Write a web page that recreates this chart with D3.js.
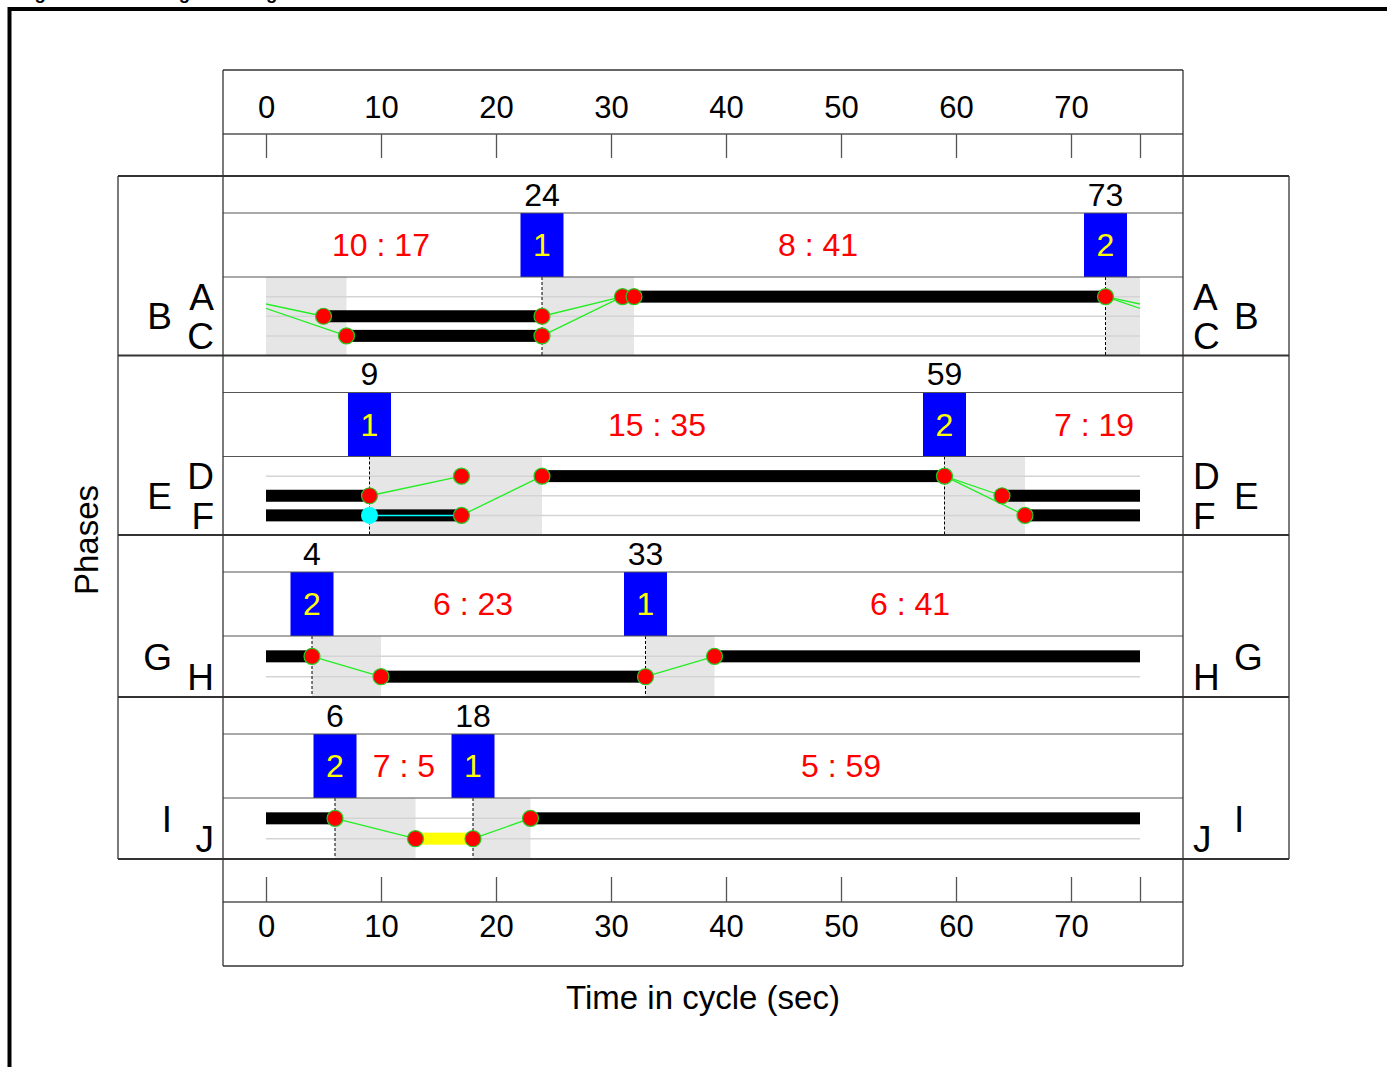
<!DOCTYPE html>
<html><head><meta charset="utf-8">
<script src="https://cdn.jsdelivr.net/npm/d3@7"></script>
<style>
body{margin:0;background:#fff}
svg{display:block}
text{font-family:"Liberation Sans",Arial,Helvetica,sans-serif}
</style>
</head><body><svg id="c" width="1387" height="1067"></svg>
<script>
// ---------------- data ----------------
const cycleLength = 76;
const tickValues = [0,10,20,30,40,50,60,70];
const ringLanes = [["A","B","C"],["D","E","F"],["G","H"],["I","J"]];
const forceOffTimes = [[24,73],[9,59],[4,33],[6,18]];
const forceOffPhases = [["1","2"],["1","2"],["2","1"],["2","1"]];
const splitLabels = [["10 : 17","8 : 41"],["15 : 35","7 : 19"],["6 : 23","6 : 41"],["7 : 5","5 : 59"]];
const splitLabelTimes = [[10,48],[34,72],[18,56],[12,50]];
const clearanceIntervals = [[[73,83],[24,32]],[[9,24],[59,66]],[[4,10],[33,39]],[[6,13],[18,23]]];
// [lane index, start, end]  (end may exceed cycle -> wraps)
const greenIntervals = [
  [[0,32,73],[1,5,24],[2,7,24]],
  [[0,24,59],[1,64,85],[2,66,93]],
  [[0,39,80],[1,10,33]],
  [[0,23,82]]
];
const yellowIntervals = [[],[],[],[[1,13,18]]];
const holdIntervals = [[],[[2,9,17]],[],[]];
// [fromLane, fromTime, toLane, toTime]
const transitions = [
  [[0,73,1,81],[0,73,2,83],[1,24,0,31],[2,24,0,31]],
  [[1,9,0,17],[2,17,0,24],[0,59,1,64],[0,59,2,66]],
  [[0,4,1,10],[1,33,0,39]],
  [[0,6,1,13],[1,18,0,23]]
];
const eventPoints = [
  [[0,31],[0,32],[0,73],[1,5],[1,24],[2,7],[2,24]],
  [[0,17],[0,24],[0,59],[1,9],[1,64],[2,17],[2,66]],
  [[0,4],[1,10],[1,33],[0,39]],
  [[0,6],[1,13],[1,18],[0,23]]
];
const holdPoints = [[],[[2,9]],[],[]];
const titleText = "Figure 3-12: AM Signal timing";
const xTitle = "Time in cycle (sec)";
const yTitle = "Phases";

// ---------------- layout ----------------
const svg = d3.select("#c");
const x = d3.scaleLinear().domain([0, cycleLength]).range([266, 1140]);
const L = 223, R = 1183, OL = 118, OR = 1289;
const numH = 37, blockH = 64;
const FONT_AX = 31, FONT_PH = 37, FONT_NUM = 32, FONT_BLK = 32, FONT_SPL = 32;
const boxColor = "#333";

function wrap(s, e) {
  const out = [];
  if (e <= cycleLength) out.push([s, e]);
  else { out.push([s, cycleLength]); out.push([0, e - cycleLength]); }
  return out;
}
function ctext(g, txt, cx, cy, fs, color, anchor) {
  return g.append("text").attr("x", cx).attr("y", cy + 0.358 * fs)
    .attr("font-size", fs).attr("fill", color || "#000")
    .attr("text-anchor", anchor || "middle").text(txt);
}
function hline(y, x1, x2, w, c) {
  svg.append("line").attr("x1", x1).attr("x2", x2).attr("y1", y).attr("y2", y)
    .attr("stroke", c || boxColor).attr("stroke-width", w || 1.3);
}
function vline(xx, y1, y2, w, c) {
  svg.append("line").attr("x1", xx).attr("x2", xx).attr("y1", y1).attr("y2", y2)
    .attr("stroke", c || boxColor).attr("stroke-width", w || 1.3);
}

// title (cut off at the top edge, as in the source figure)
svg.append("text").attr("x", 18).attr("y", -1).attr("font-size", 18.5)
  .attr("font-weight", "bold").text(titleText);
// outer frame
svg.append("path").attr("d", "M9.5,1067 V9 H1387").attr("fill", "none")
  .attr("stroke", "#000").attr("stroke-width", 4);

// row geometry
let cur = 176;
const rows = ringLanes.map(l => {
  const barH = 17.5 * l.length + 26;
  const g = { top: cur, blockTop: cur + numH, barTop: cur + numH + blockH, barH };
  g.bottom = g.barTop + barH;
  g.lane = d3.scaleLinear().domain([-1, l.length]).range([g.barTop, g.bottom]);
  cur = g.bottom;
  return g;
});
const rowsEnd = cur;

const defs = svg.append("defs");
defs.append("clipPath").attr("id", "clipx").append("rect")
  .attr("x", x(0)).attr("y", 0).attr("width", x(cycleLength) - x(0)).attr("height", 1067);

// ---------------- rings ----------------
rows.forEach((g, r) => {
  const lanes = ringLanes[r];
  const gr = svg.append("g");
  clearanceIntervals[r].forEach(([s, e]) => wrap(s, e).forEach(([a, b]) => {
    gr.append("rect").attr("x", x(a)).attr("width", x(b) - x(a))
      .attr("y", g.barTop).attr("height", g.barH).attr("fill", "#e6e6e6");
  }));
  lanes.forEach((ln, i) => {
    gr.append("line").attr("x1", x(0)).attr("x2", x(cycleLength))
      .attr("y1", g.lane(i)).attr("y2", g.lane(i))
      .attr("stroke", "#d4d4d4").attr("stroke-width", 1.5);
  });
  forceOffTimes[r].forEach(t => {
    gr.append("line").attr("x1", x(t)).attr("x2", x(t))
      .attr("y1", g.barTop).attr("y2", g.bottom)
      .attr("stroke", "#000").attr("stroke-width", 1).attr("stroke-dasharray", "3,2");
  });
  greenIntervals[r].forEach(([ln, s, e]) => wrap(s, e).forEach(([a, b]) => {
    gr.append("rect").attr("x", x(a)).attr("width", x(b) - x(a))
      .attr("y", g.lane(ln) - 6).attr("height", 12).attr("fill", "#000");
  }));
  yellowIntervals[r].forEach(([ln, s, e]) => wrap(s, e).forEach(([a, b]) => {
    gr.append("rect").attr("x", x(a)).attr("width", x(b) - x(a))
      .attr("y", g.lane(ln) - 6).attr("height", 12).attr("fill", "#ffff00");
  }));
  const tg = gr.append("g").attr("clip-path", "url(#clipx)");
  transitions[r].forEach(([l1, t1, l2, t2]) => {
    [0, -cycleLength].forEach(off => {
      tg.append("line").attr("x1", x(t1 + off)).attr("x2", x(t2 + off))
        .attr("y1", g.lane(l1)).attr("y2", g.lane(l2))
        .attr("stroke", "#22ee22").attr("stroke-width", 1.3);
    });
  });
  holdIntervals[r].forEach(([ln, s, e]) => {
    gr.append("line").attr("x1", x(s)).attr("x2", x(e))
      .attr("y1", g.lane(ln)).attr("y2", g.lane(ln))
      .attr("stroke", "#00ffff").attr("stroke-width", 1.5);
  });
  holdPoints[r].forEach(([ln, t]) => {
    gr.append("circle").attr("cx", x(t)).attr("cy", g.lane(ln)).attr("r", 8.5)
      .attr("fill", "#00ffff");
  });
  eventPoints[r].forEach(([ln, t]) => {
    gr.append("circle").attr("cx", x(t)).attr("cy", g.lane(ln)).attr("r", 8)
      .attr("fill", "#ff0000").attr("stroke", "#22cc22").attr("stroke-width", 1.2);
  });
  forceOffTimes[r].forEach((t, i) => {
    gr.append("rect").attr("x", x(t) - 21.5).attr("width", 43)
      .attr("y", g.blockTop).attr("height", blockH).attr("fill", "#0000ff");
    ctext(gr, forceOffPhases[r][i], x(t), g.blockTop + blockH / 2, FONT_BLK, "#ffff00");
    ctext(gr, String(t), x(t), g.top + numH / 2, FONT_NUM, "#000");
  });
  splitLabels[r].forEach((s, i) => {
    ctext(gr, s, x(splitLabelTimes[r][i]), g.blockTop + blockH / 2, FONT_SPL, "#ff0000");
  });
  const outer = Math.floor((lanes.length - 1) / 2);
  lanes.forEach((ln, i) => {
    const isOuter = i === outer;
    ctext(svg, ln, isOuter ? 172 : 214, g.lane(i), FONT_PH, "#000", "end");
    ctext(svg, ln, isOuter ? 1234 : 1193, g.lane(i), FONT_PH, "#000", "start");
  });
  hline(g.blockTop, L, R, 1.2, "#555");
  hline(g.barTop, L, R, 1.2, "#555");
});

hline(70, L, R, 1.3);
hline(134, L, R, 1.3, "#555");
rows.forEach(g => hline(g.top, OL, OR, 2));
hline(rowsEnd, OL, OR, 2);
hline(rowsEnd + 43, L, R, 1.3, "#555");
hline(rowsEnd + 107, L, R, 1.3);
vline(L, 70, rowsEnd + 107);
vline(R, 70, rowsEnd + 107);
vline(OL, 176, rowsEnd);
vline(OR, 176, rowsEnd);

// ---------------- axes ----------------
const allTicks = tickValues.concat([cycleLength]);
function styleAxis(g) {
  g.select(".domain").remove();
  g.selectAll(".tick line").attr("stroke", "#555").attr("stroke-width", 1.3);
  g.selectAll("text").attr("font-size", FONT_AX).attr("fill", "#000")
    .attr("font-family", '"Liberation Sans",Arial,sans-serif');
}
svg.append("g").attr("transform", "translate(0,134)")
  .call(d3.axisBottom(x).tickValues(allTicks).tickSize(24).tickFormat(() => ""))
  .call(styleAxis);
svg.append("g").attr("transform", "translate(0,96)")
  .call(d3.axisBottom(x).tickValues(tickValues).tickSize(0).tickPadding(0))
  .call(styleAxis);
svg.append("g").attr("transform", `translate(0,${rowsEnd + 43})`)
  .call(d3.axisTop(x).tickValues(allTicks).tickSize(25).tickFormat(() => ""))
  .call(styleAxis);
svg.append("g").attr("transform", `translate(0,${rowsEnd + 56})`)
  .call(d3.axisBottom(x).tickValues(tickValues).tickSize(0).tickPadding(0))
  .call(styleAxis);

svg.append("text").attr("x", 703).attr("y", 1009).attr("text-anchor", "middle")
  .attr("font-size", 33).text(xTitle);
svg.append("text").attr("transform", "translate(98,540) rotate(-90)")
  .attr("text-anchor", "middle").attr("font-size", 33).text(yTitle);
</script>
</body></html>
